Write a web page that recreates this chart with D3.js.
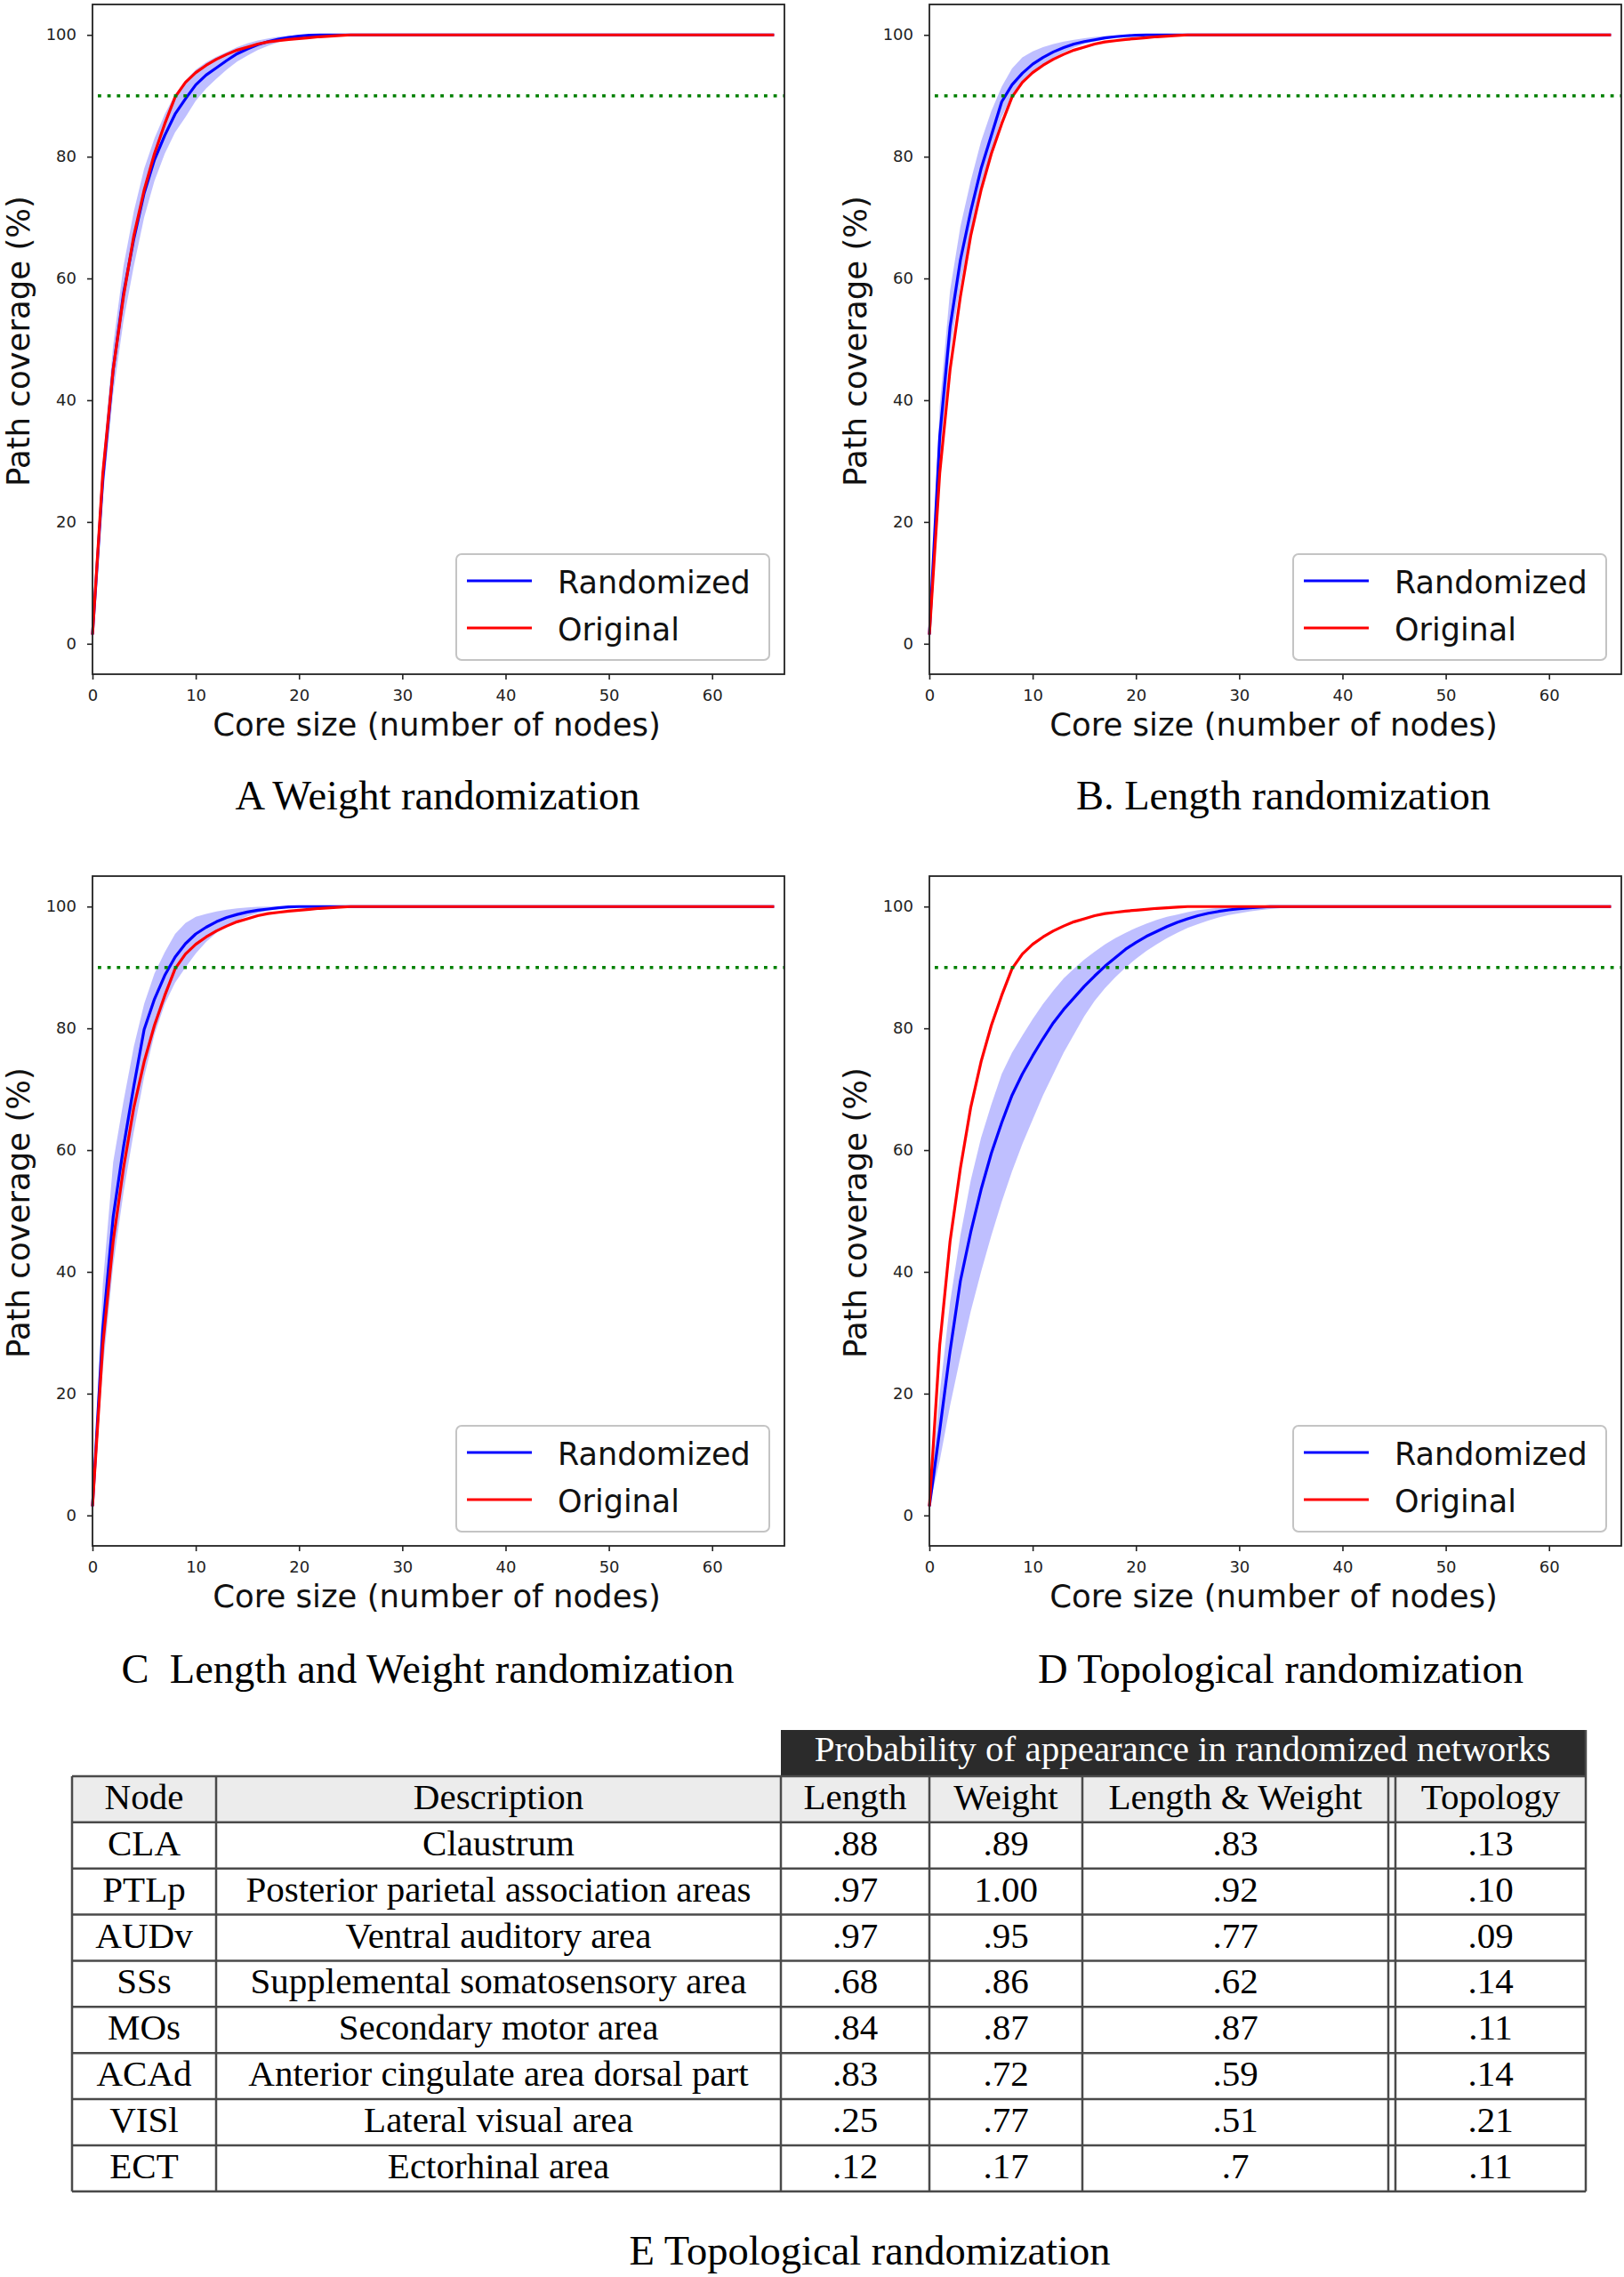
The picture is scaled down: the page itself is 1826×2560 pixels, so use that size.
<!DOCTYPE html>
<html><head><meta charset="utf-8">
<script src="https://cdn.jsdelivr.net/npm/d3@7"></script>
<style>
body{margin:0;background:#fff;}
svg text{white-space:pre;}
</style></head><body>
<svg id="fig" width="1826" height="2560" xmlns="http://www.w3.org/2000/svg"></svg>
<script>
// ---------------- DATA ----------------
const cores = [0,1,2,3,4,5,6,7,8,9,10,11,12,13,14,15,16,17,18,19,20,21,22,23,24,25,26,27,28,29,30,31,32,33,34,35,36,37,38,39,40,66];
const xTicks = [0,10,20,30,40,50,60];
const yTicks = [0,20,40,60,80,100];
const threshold = 90;
const legendLabels = ["Randomized","Original"];
const xLabel = "Core size (number of nodes)";
const yLabel = "Path coverage (%)";
const captions = ["A Weight randomization","B. Length randomization","C  Length and Weight randomization","D Topological randomization"];

const original = [1.5,28,45,57,67,74.5,80.5,85.4,89.8,92.2,
 93.8,95,96,96.8,97.5,98,98.5,98.85,99.05,99.25,
 99.4,99.55,99.7,99.8,99.9,100,100,100,100,100,
 100,100,100,100,100,100,100,100,100,100,
 100,100];

const weightMean = [1.5,27,45,57.5,66.5,74,79.5,83.5,87,89.5,
 91.8,93.4,94.6,95.8,96.9,97.7,98.4,98.9,99.3,99.6,
 99.8,99.95,100,100,100,100,100,100,100,100,
 100,100,100,100,100,100,100,100,100,100,
 100,100];
const weightUpper = [1.5,30,49,62,71,78,83,87,90.2,92.5,
 94.3,95.5,96.4,97.2,98,98.6,99.1,99.4,99.7,99.85,
 99.95,100,100,100,100,100,100,100,100,100,
 100,100,100,100,100,100,100,100,100,100,
 100,100];
const weightLower = [1.5,24,41,53,62,70,76,80.5,84,86.5,
 89.2,91.2,92.8,94.3,95.6,96.6,97.5,98.2,98.8,99.3,
 99.6,99.9,100,100,100,100,100,100,100,100,
 100,100,100,100,100,100,100,100,100,100,
 100,100];

const lengthMean = [1.5,34,52,63,71,78,83.5,89,91.8,93.7,
 95.2,96.3,97.2,97.9,98.5,98.9,99.2,99.5,99.7,99.85,
 99.95,100,100,100,100,100,100,100,100,100,
 100,100,100,100,100,100,100,100,100,100,
 100,100];
const lengthUpper = [1.5,39,58,68.5,76,82.5,87.5,91.5,94.5,96.3,
 97.3,98,98.5,98.9,99.2,99.45,99.65,99.8,99.9,100,
 100,100,100,100,100,100,100,100,100,100,
 100,100,100,100,100,100,100,100,100,100,
 100,100];
const lengthLower = [1.5,30,48,59,67.5,74.5,80.5,86.5,90,92,
 93.8,95,96.2,97.1,97.9,98.5,98.9,99.3,99.55,99.75,
 99.9,100,100,100,100,100,100,100,100,100,
 100,100,100,100,100,100,100,100,100,100,
 100,100];

const bothMean = [1.5,30.6,49,60.5,70.5,79.8,84.8,88.7,91.7,93.9,
 95.5,96.6,97.5,98.2,98.7,99.1,99.4,99.6,99.8,99.95,
 100,100,100,100,100,100,100,100,100,100,
 100,100,100,100,100,100,100,100,100,100,
 100,100];
const bothUpper = [1.5,38,58,68,77,84,89,92.5,95.5,97.3,
 98.3,98.8,99.2,99.5,99.7,99.85,99.95,100,100,100,
 100,100,100,100,100,100,100,100,100,100,
 100,100,100,100,100,100,100,100,100,100,
 100,100];
const bothLower = [1.5,24,41,53,63,72,79,84,87.5,90,
 92.3,94.2,95.7,96.8,97.7,98.4,98.9,99.3,99.6,99.8,
 99.95,100,100,100,100,100,100,100,100,100,
 100,100,100,100,100,100,100,100,100,100,
 100,100];

const topoMean = [1.5,14,27,38.5,46.5,53.5,59.5,64.5,69,72.5,
 75.5,78.3,80.9,83.1,85,86.9,88.6,90.2,91.6,93,
 94.1,95.1,95.9,96.7,97.4,98,98.5,98.9,99.2,99.45,
 99.65,99.8,99.9,100,100,100,100,100,100,100,
 100,100];
const topoUpper = [1.5,20,35,46,55,62,67.5,72.5,76,78.8,
 81.5,84,86.2,88.2,89.8,91.3,92.6,93.8,94.8,95.7,
 96.5,97.2,97.8,98.3,98.7,99.1,99.4,99.6,99.8,99.95,
 100,100,100,100,100,100,100,100,100,100,
 100,100];
const topoLower = [1.5,9,18,26,33.5,40,46,51.5,56.5,61,
 65,69,72.5,76,79,82,84.5,86.6,88.4,90,
 91.4,92.7,93.8,94.8,95.7,96.5,97.1,97.7,98.2,98.6,
 98.9,99.2,99.4,99.6,99.75,99.85,99.93,100,100,100,
 100,100];

// table data
const tableTitle = "Probability of appearance in randomized networks";
const tableHeaders = ["Node","Description","Length","Weight","Length & Weight","Topology"];
const nodes = ["CLA","PTLp","AUDv","SSs","MOs","ACAd","VISl","ECT"];
const descriptions = ["Claustrum","Posterior parietal association areas","Ventral auditory area","Supplemental somatosensory area","Secondary motor area","Anterior cingulate area dorsal part","Lateral visual area","Ectorhinal area"];
const probLength = [".88",".97",".97",".68",".84",".83",".25",".12"];
const probWeight = [".89","1.00",".95",".86",".87",".72",".77",".17"];
const probBoth = [".83",".92",".77",".62",".87",".59",".51",".7"];
const probTopology = [".13",".10",".09",".14",".11",".14",".21",".11"];
const tableCaption = "E Topological randomization";

// ---------------- DRAW ----------------
const svg = d3.select('#fig');
const W = 778, H = 753;
const x = d3.scaleLinear().domain([0,67]).range([0,W]);
const y = d3.scaleLinear().domain([-5,105]).range([H,0]);
const sans = "'DejaVu Sans', sans-serif";
const serif = "'Liberation Serif', 'Times New Roman', serif";

const panels = [
  {ox:104, oy:5,   cx:492,  capY:910,  mean:weightMean, lo:weightLower, hi:weightUpper},
  {ox:1045, oy:5,  cx:1443, capY:910,  mean:lengthMean, lo:lengthLower, hi:lengthUpper},
  {ox:104, oy:985, cx:481,  capY:1892, mean:bothMean,   lo:bothLower,   hi:bothUpper},
  {ox:1045, oy:985,cx:1440, capY:1892, mean:topoMean,   lo:topoLower,   hi:topoUpper}
];

panels.forEach((p, i) => {
  const g = svg.append('g').attr('transform', `translate(${p.ox},${p.oy})`);
  const pts = cores.map((c, k) => ({c, m:p.mean[k], lo:p.lo[k], hi:p.hi[k], o:original[k]}));

  g.append('path').datum(pts)
    .attr('d', d3.area().x(d => x(d.c)).y0(d => y(d.lo)).y1(d => y(d.hi)))
    .attr('fill', '#0000ff').attr('fill-opacity', 0.25).attr('stroke','none');
  g.append('path').datum(pts)
    .attr('d', d3.line().x(d => x(d.c)).y(d => y(d.m)))
    .attr('fill','none').attr('stroke','#0000ff').attr('stroke-width',3.2).attr('stroke-linejoin','round');
  g.append('path').datum(pts)
    .attr('d', d3.line().x(d => x(d.c)).y(d => y(d.o)))
    .attr('fill','none').attr('stroke','#ff0000').attr('stroke-width',3.2).attr('stroke-linejoin','round');

  g.append('line').attr('x1', 0).attr('x2', W).attr('y1', y(threshold)).attr('y2', y(threshold))
    .attr('stroke','#008000').attr('stroke-width',3.6).attr('stroke-dasharray','3.8 6.9')
    .attr('stroke-dashoffset', -6);

  // frame
  g.append('rect').attr('x',0).attr('y',0).attr('width',W).attr('height',H)
    .attr('fill','none').attr('stroke','#222').attr('stroke-width',1.8);

  const xa = g.append('g').attr('transform',`translate(0,${H})`)
    .call(d3.axisBottom(x).tickValues(xTicks).tickSize(6).tickPadding(11).tickFormat(d3.format('d')));
  const ya = g.append('g')
    .call(d3.axisLeft(y).tickValues(yTicks).tickSize(6).tickPadding(12).tickFormat(d3.format('d')));
  [xa, ya].forEach(a => {
    a.select('.domain').remove();
    a.selectAll('line').attr('stroke','#222').attr('stroke-width',1.6);
    a.selectAll('text').attr('font-family', sans).attr('font-size', 18).attr('fill','#222');
  });

  g.append('text').attr('x', W/2 - 2).attr('y', H + 69)
    .attr('text-anchor','middle').attr('font-family', sans).attr('font-size', 35.5).attr('fill','#111')
    .text(xLabel);
  g.append('text').attr('transform', `translate(-71,${H/2 + 2}) rotate(-90)`)
    .attr('text-anchor','middle').attr('font-family', sans).attr('font-size', 35.5).attr('fill','#111')
    .text(yLabel);

  // legend
  const lg = g.append('g').attr('transform','translate(409,618)');
  lg.append('rect').attr('x',0).attr('y',0).attr('width',352).attr('height',119).attr('rx',6)
    .attr('fill','#fff').attr('fill-opacity',0.85).attr('stroke','#c4c4c4').attr('stroke-width',2);
  const lcol = ['#0000ff','#ff0000'];
  legendLabels.forEach((lab, k) => {
    const ly = 30 + k*53;
    lg.append('line').attr('x1',12).attr('x2',85).attr('y1',ly).attr('y2',ly)
      .attr('stroke',lcol[k]).attr('stroke-width',3);
    lg.append('text').attr('x',114).attr('y',ly + 14)
      .attr('font-family', sans).attr('font-size', 35).attr('fill','#111').text(lab);
  });

  svg.append('text').attr('x', p.cx).attr('y', p.capY).attr('text-anchor','middle')
    .attr('font-family', serif).attr('font-size', 46.5).attr('fill','#000').text(captions[i]);
});

// ---------------- TABLE ----------------
const colEdges = [81, 243, 878, 1045, 1217, 1561, 1569, 1783];
const colCenters = [162, 560.5, 961.5, 1131, 1389, 1676];
const top0 = 1997, rowH = 51.86, nRows = nodes.length + 1;
const tb = svg.append('g');
const lineCol = '#4a4a4a';

tb.append('rect').attr('x', colEdges[2]).attr('y', 1945).attr('width', colEdges[7]-colEdges[2]).attr('height', top0-1945)
  .attr('fill','#2b2b2b');
tb.append('text').attr('x', (colEdges[2]+colEdges[7])/2 - 1).attr('y', 1980).attr('text-anchor','middle')
  .attr('font-family', serif).attr('font-size', 41).attr('fill','#fff').text(tableTitle);

tb.append('rect').attr('x', colEdges[0]).attr('y', top0).attr('width', colEdges[7]-colEdges[0]).attr('height', rowH)
  .attr('fill','#ececec');

const rows = [tableHeaders].concat(nodes.map((n, i) => [n, descriptions[i], probLength[i], probWeight[i], probBoth[i], probTopology[i]]));
rows.forEach((r, ri) => {
  r.forEach((txt, ci) => {
    tb.append('text').attr('x', colCenters[ci]).attr('y', top0 + ri*rowH + 37)
      .attr('text-anchor','middle').attr('font-family', serif).attr('font-size', 41).attr('fill','#000').text(txt);
  });
});
for (let i = 0; i <= nRows; i++) {
  tb.append('line').attr('x1', colEdges[0]).attr('x2', colEdges[7])
    .attr('y1', top0 + i*rowH).attr('y2', top0 + i*rowH).attr('stroke', lineCol).attr('stroke-width', 2.5);
}
colEdges.forEach(cx => {
  tb.append('line').attr('x1', cx).attr('x2', cx).attr('y1', top0).attr('y2', top0 + nRows*rowH)
    .attr('stroke', lineCol).attr('stroke-width', 2.5);
});
tb.append('line').attr('x1', colEdges[7]).attr('x2', colEdges[7]).attr('y1', 1945).attr('y2', top0)
  .attr('stroke', lineCol).attr('stroke-width', 2.5);

svg.append('text').attr('x', 978).attr('y', 2546).attr('text-anchor','middle')
  .attr('font-family', serif).attr('font-size', 46.5).attr('fill','#000').text(tableCaption);
</script>
</body></html>
